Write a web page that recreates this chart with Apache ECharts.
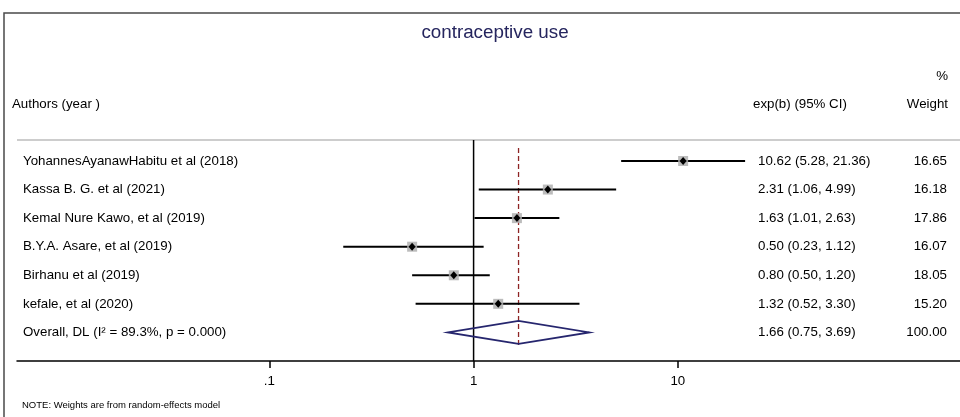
<!DOCTYPE html>
<html>
<head>
<meta charset="utf-8">
<script src="https://cdn.jsdelivr.net/npm/echarts@6/dist/echarts.min.js"></script>
<style>
html,body{margin:0;padding:0;background:#fff;}
#c{width:960px;height:417px;}
</style>
</head>
<body>
<div id="c"></div>
<script>
var studies = ['YohannesAyanawHabitu et al (2018)','Kassa B. G. et al (2021)','Kemal Nure Kawo, et al (2019)','B.Y.A. Asare, et al (2019)','Birhanu et al (2019)','kefale, et al (2020)'];
var es = [10.62, 2.31, 1.63, 0.50, 0.80, 1.32];
var lo = [5.28, 1.06, 1.01, 0.23, 0.50, 0.52];
var hi = [21.36, 4.99, 2.63, 1.12, 1.20, 3.30];
var weights = [16.65, 16.18, 17.86, 16.07, 18.05, 15.20];
var overallLabel = 'Overall, DL (I\u00B2 = 89.3%, p = 0.000)';
var overallEs = 1.66, overallLo = 0.75, overallHi = 3.69, overallWeight = 100.00;
var tickValues = [0.1, 1, 10];
var tickLabels = ['.1', '1', '10'];

var FONT = 'Liberation Sans, Arial, sans-serif';
var FS = '13.3px ';
function f2(v){ return v.toFixed(2); }

var rows = [];
for (var i = 0; i < studies.length; i++) {
  rows.push({y: i, name: studies[i], ci: f2(es[i]) + ' (' + f2(lo[i]) + ', ' + f2(hi[i]) + ')', w: f2(weights[i])});
}
rows.push({y: studies.length, name: overallLabel, ci: f2(overallEs) + ' (' + f2(overallLo) + ', ' + f2(overallHi) + ')', w: f2(overallWeight)});
var rowIdx = rows.map(function(r){ return [1, r.y]; });

var ciData = es.map(function(v, i){ return [lo[i], hi[i], i]; });
var ptData = es.map(function(v, i){ return [v, i]; });
var nRows = studies.length;

var chart = echarts.init(document.getElementById('c'), null, {renderer: 'canvas'});
chart.setOption({
  animation: false,
  backgroundColor: '#fff',
  grid: {left: 17, right: 0, top: 140, bottom: 56},
  xAxis: {
    type: 'log', logBase: 10,
    min: Math.pow(10, -2.236), max: Math.pow(10, 2.382),
    axisLine: {show: true, onZero: false, lineStyle: {color: '#000', width: 1.5}},
    axisTick: {show: true, length: 7, inside: false, customValues: tickValues, lineStyle: {color: '#000', width: 1.5}},
    axisLabel: {show: true, customValues: tickValues, margin: 14, color: '#000', fontSize: 13.3, fontFamily: FONT,
      formatter: function(v){ for (var k = 0; k < tickValues.length; k++) { if (Math.abs(v - tickValues[k]) < 1e-6 * tickValues[k]) return tickLabels[k]; } return ''; }},
    splitLine: {show: false}
  },
  yAxis: {
    type: 'value', inverse: true, min: -0.734, max: 7.0,
    show: false
  },
  graphic: [
    {type: 'rect', shape: {x: 4, y: 13, width: 1000, height: 500}, style: {fill: 'none', stroke: '#4a4a4a', lineWidth: 1.5}, silent: true},
    {type: 'line', shape: {x1: 17, y1: 140, x2: 960, y2: 140}, style: {stroke: '#bdbdbd', lineWidth: 1.5}, silent: true},
    {type: 'text', x: 495, y: 33, style: {text: 'contraceptive use', fill: '#25255e', font: '18.8px ' + FONT, align: 'center', verticalAlign: 'middle'}},
    {type: 'text', x: 948, y: 76, style: {text: '%', fill: '#000', font: FS + FONT, align: 'right', verticalAlign: 'middle'}},
    {type: 'text', x: 12, y: 104, style: {text: 'Authors (year )', fill: '#000', font: FS + FONT, align: 'left', verticalAlign: 'middle'}},
    {type: 'text', x: 753, y: 104, style: {text: 'exp(b) (95% CI)', fill: '#000', font: FS + FONT, align: 'left', verticalAlign: 'middle'}},
    {type: 'text', x: 948, y: 104, style: {text: 'Weight', fill: '#000', font: FS + FONT, align: 'right', verticalAlign: 'middle'}},
    {type: 'text', x: 22, y: 405, style: {text: 'NOTE: Weights are from random-effects model', fill: '#000', font: '9.5px ' + FONT, align: 'left', verticalAlign: 'middle'}}
  ],
  series: [
    {
      type: 'line', data: [[1, -0.734], [1, 7.0]], symbol: 'none', silent: true,
      lineStyle: {color: '#000', width: 1.5}, z: 2
    },
    {
      type: 'line', data: [[overallEs, -0.45], [overallEs, 6.5]], symbol: 'none', silent: true,
      lineStyle: {color: '#8e2424', width: 1.3, type: [5, 3]}, z: 3
    },
    {
      type: 'custom', z: 4, silent: true,
      data: ciData,
      renderItem: function(params, api){
        var a = api.coord([api.value(0), api.value(2)]);
        var b = api.coord([api.value(1), api.value(2)]);
        return {type: 'line', shape: {x1: a[0], y1: a[1], x2: b[0], y2: b[1]}, style: {stroke: '#000', lineWidth: 2}};
      }
    },
    {
      type: 'scatter', z: 5, silent: true, data: ptData, symbol: 'rect', symbolSize: 10,
      itemStyle: {color: '#b0b0b0', opacity: 0.85}
    },
    {
      type: 'scatter', z: 6, silent: true, data: ptData, symbol: 'diamond', symbolSize: [7, 8],
      itemStyle: {color: '#000', opacity: 1}
    },
    {
      type: 'custom', z: 6, silent: true,
      data: [[overallLo, overallEs, overallHi, nRows]],
      renderItem: function(params, api){
        var y = api.value(3);
        var l = api.coord([api.value(0), y]);
        var m = api.coord([api.value(1), y]);
        var r = api.coord([api.value(2), y]);
        return {type: 'polygon', shape: {points: [[l[0], l[1]], [m[0], m[1] - 11.5], [r[0], r[1]], [m[0], m[1] + 11.5]]},
          style: {fill: 'rgba(255,255,255,0)', stroke: '#26266e', lineWidth: 1.8}};
      }
    },
    {
      type: 'custom', z: 7, silent: true, clip: false,
      data: rowIdx,
      renderItem: function(params, api){
        var r = rows[params.dataIndex];
        var y = api.coord([1, api.value(1)])[1];
        return {type: 'group', children: [
          {type: 'text', x: 23, y: y, style: {text: r.name, fill: '#000', font: FS + FONT, verticalAlign: 'middle', align: 'left'}},
          {type: 'text', x: 758, y: y, style: {text: r.ci, fill: '#000', font: FS + FONT, verticalAlign: 'middle', align: 'left'}},
          {type: 'text', x: 947, y: y, style: {text: r.w, fill: '#000', font: FS + FONT, verticalAlign: 'middle', align: 'right'}}
        ]};
      }
    }
  ]
});
</script>
</body>
</html>
